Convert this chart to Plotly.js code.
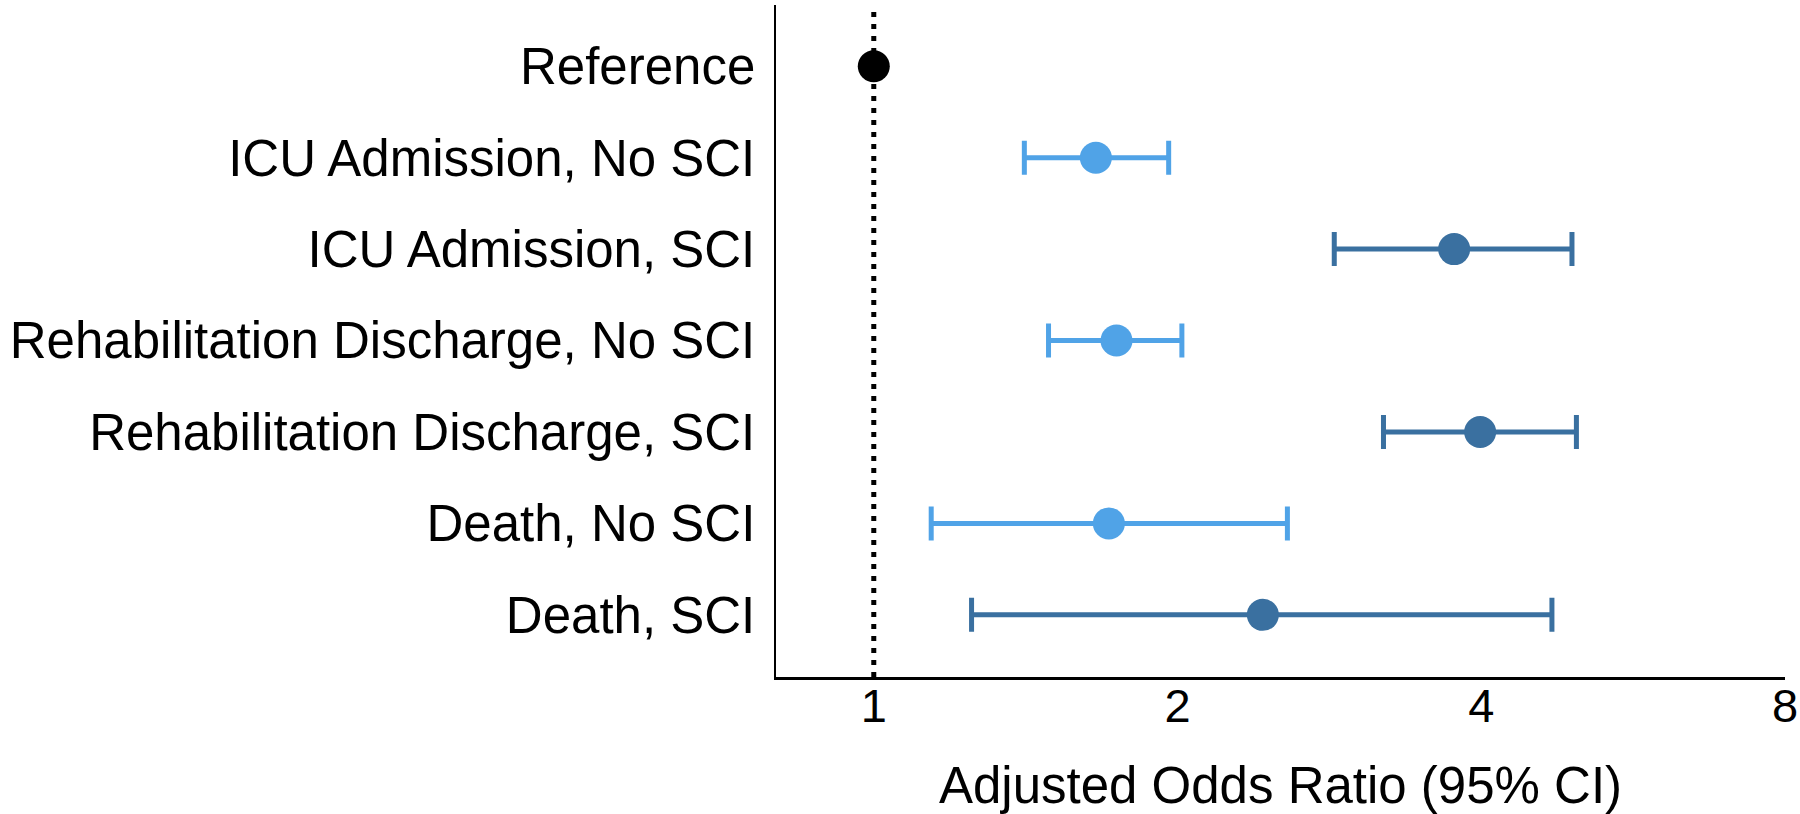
<!DOCTYPE html>
<html>
<head>
<meta charset="utf-8">
<script src="https://cdn.plot.ly/plotly-3.0.1.min.js"></script>
<style>
html,body{margin:0;padding:0;background:#fff;}
#chart{width:1800px;height:814px;}
</style>
</head>
<body>
<div id="chart"></div>
<script>
// ---- data ----
const categories = ["Reference", "ICU Admission, No SCI", "ICU Admission, SCI",
  "Rehabilitation Discharge, No SCI", "Rehabilitation Discharge, SCI",
  "Death, No SCI", "Death, SCI"];
const oddsRatio = [1, 1.66, 3.76, 1.74, 3.99, 1.71, 2.43];
const ciLower   = [null, 1.41, 2.86, 1.49, 3.20, 1.14, 1.25];
const ciUpper   = [null, 1.96, 4.92, 2.02, 4.97, 2.57, 4.70];
const group     = ["ref", "noSCI", "SCI", "noSCI", "SCI", "noSCI", "SCI"];
const xTickVals = [1, 2, 4, 8];
const xTickText = ["1", "2", "4", "8"];
const refLine = 1;

const colors = {ref: "#000000", noSCI: "#50A3E7", SCI: "#3A70A0"};
const FONT = 'Arial, "Liberation Sans", sans-serif';

function build(g) {
  const idx = group.map((v, i) => v === g ? i : -1).filter(i => i >= 0);
  const tr = {
    type: "scatter", mode: "markers",
    x: idx.map(i => oddsRatio[i]),
    y: idx.map(i => categories[i]),
    marker: {color: colors[g], size: 32},
    hoverinfo: "x+y", showlegend: false, cliponaxis: false
  };
  if (g !== "ref") {
    tr.error_x = {
      type: "data", symmetric: false,
      array: idx.map(i => ciUpper[i] - oddsRatio[i]),
      arrayminus: idx.map(i => oddsRatio[i] - ciLower[i]),
      color: colors[g], thickness: 5, width: 17
    };
  }
  return tr;
}

const traces = [build("noSCI"), build("SCI"), build("ref")];

const layout = {
  width: 1800, height: 814,
  paper_bgcolor: "#fff", plot_bgcolor: "#fff",
  margin: {l: 776, r: 15, t: 5, b: 137},
  font: {family: FONT, color: "#000"},
  xaxis: {
    type: "log",
    range: [Math.log10(0.80), Math.log10(8)],
    tickvals: xTickVals, ticktext: xTickText,
    tickfont: {size: 47, family: FONT, color: "#000"},
    showgrid: false, zeroline: false,
    showline: true, linecolor: "#000", linewidth: 2.5,
    ticks: "", ticklabelstandoff: -14,
    title: {text: "Adjusted Odds Ratio (95% CI)", font: {size: 51, family: FONT, color: "#000"}, standoff: 38}
  },
  yaxis: {
    type: "category",
    categoryorder: "array", categoryarray: categories,
    range: [6.68, -0.67],
    tickfont: {size: 51, family: FONT, color: "#000"},
    showgrid: false, zeroline: false,
    showline: true, linecolor: "#000", linewidth: 2.5,
    ticks: "", ticklabelstandoff: 8
  },
  shapes: [{
    type: "line", xref: "x", yref: "paper",
    x0: refLine, x1: refLine, y0: 0, y1: 1,
    line: {color: "#000", width: 5, dash: "5px,7px"},
    layer: "below"
  }]
};

Plotly.newPlot("chart", traces, layout, {staticPlot: true, displayModeBar: false});
</script>
</body>
</html>
